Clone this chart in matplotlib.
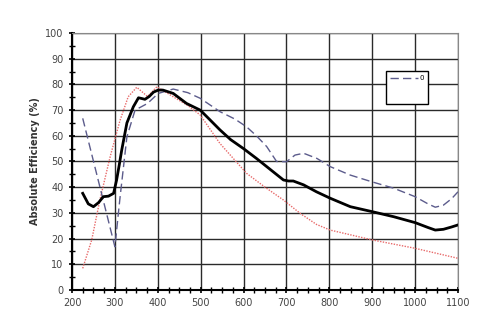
import numpy as np
import matplotlib.pyplot as plt
from matplotlib.ticker import MultipleLocator
from matplotlib.lines import Line2D

# wavelength (nm) and absolute efficiency (%) for three gratings
wl_solid = [225, 238, 250, 262, 273, 285, 297, 304, 310, 316, 328, 343, 355,
            363, 370, 380, 390, 401, 412, 436, 467, 499, 520, 545, 570, 600,
            630, 654, 675, 693, 705, 716, 740, 770, 802, 849, 899, 950, 1000,
            1030, 1047, 1066, 1085, 1100]
eff_solid = [37.6, 33.5, 32.4, 34.0, 36.3, 36.5, 37.6, 42.8, 48.5, 54.5, 65.0,
             71.3, 74.8, 74.5, 74.2, 75.3, 77.0, 77.8, 77.8, 76.5, 72.6, 70.0,
             66.5, 62.3, 58.5, 55.0, 51.2, 48.0, 45.2, 42.8, 42.4, 42.4, 40.9,
             38.2, 35.7, 32.4, 30.5, 28.5, 26.2, 24.3, 23.3, 23.6, 24.5, 25.3]

wl_dash = [225, 300, 312, 328, 347, 376, 401, 436, 470, 499, 545, 580, 607,
           630, 654, 677, 700, 720, 740, 771, 802, 849, 899, 950, 1000, 1030,
           1047, 1066, 1085, 1100]
eff_dash = [66.8, 16.8, 36.0, 59.6, 70.0, 72.6, 76.5, 78.2, 76.8, 74.6, 69.4,
            66.5, 63.5, 60.0, 55.8, 50.0, 49.9, 52.5, 53.2, 51.2, 48.0, 44.7,
            42.1, 39.6, 36.3, 33.5, 32.2, 33.0, 35.5, 38.2]

wl_dot = [225, 246, 265, 289, 312, 331, 351, 376, 398, 436, 470, 499, 545,
          607, 650, 693, 732, 770, 802, 899, 1000, 1100]
eff_dot = [8.4, 19.5, 35.0, 51.9, 66.0, 75.2, 78.9, 75.3, 79.1, 75.2, 71.8,
           68.1, 57.0, 45.4, 40.0, 35.0, 29.8, 25.5, 23.3, 19.5, 16.2, 12.3]

fig = plt.figure(figsize=(5, 3.34), dpi=100)
ax = fig.add_axes([0.144, 0.132, 0.772, 0.769])

ax.plot(wl_dot, eff_dot, color='#e86a6a', lw=1.0, ls=(0, (1, 1)))
ax.plot(wl_dash, eff_dash, color='#5c5c8c', lw=1.0, ls=(0, (6, 3)))
ax.plot(wl_solid, eff_solid, color='black', lw=2.0)

ax.set_xlim(200, 1100)
ax.set_ylim(0, 100)
ax.xaxis.set_major_locator(MultipleLocator(100))
ax.xaxis.set_minor_locator(MultipleLocator(25))
ax.yaxis.set_major_locator(MultipleLocator(10))
ax.yaxis.set_minor_locator(MultipleLocator(5))
ax.grid(True, which='major', color='#2a2a2a', lw=1.0)
ax.set_axisbelow(True)

for s in ['top', 'right']:
    ax.spines[s].set_color('#888888')
    ax.spines[s].set_linewidth(0.8)
for s in ['left', 'bottom']:
    ax.spines[s].set_linewidth(1.5)

ax.tick_params(which='both', direction='inout', labelsize=7, colors='black',
               labelcolor='#444444')
ax.tick_params(which='major', length=5, width=1.2)
ax.tick_params(which='minor', length=4, width=1.0)

ax.set_ylabel('Absolute Efficiency (%)', fontsize=7, fontweight='bold',
              color='#333333')

handles = [Line2D([], [], color='#5c5c8c', lw=1.0, ls=(0, (6, 3))),
           Line2D([], [], color='none'),
           Line2D([], [], color='none')]
leg = ax.legend(handles, ['0', ' ', ' '], loc='upper left',
                bbox_to_anchor=(0.805, 0.865), fontsize=5, frameon=True,
                fancybox=False, borderpad=0.6, handlelength=4.0,
                labelspacing=0.5, handletextpad=0.2)
leg.get_frame().set_edgecolor('black')
leg.get_frame().set_linewidth(1.0)
leg.get_frame().set_alpha(1)

fig.savefig('out.png', dpi=100)
